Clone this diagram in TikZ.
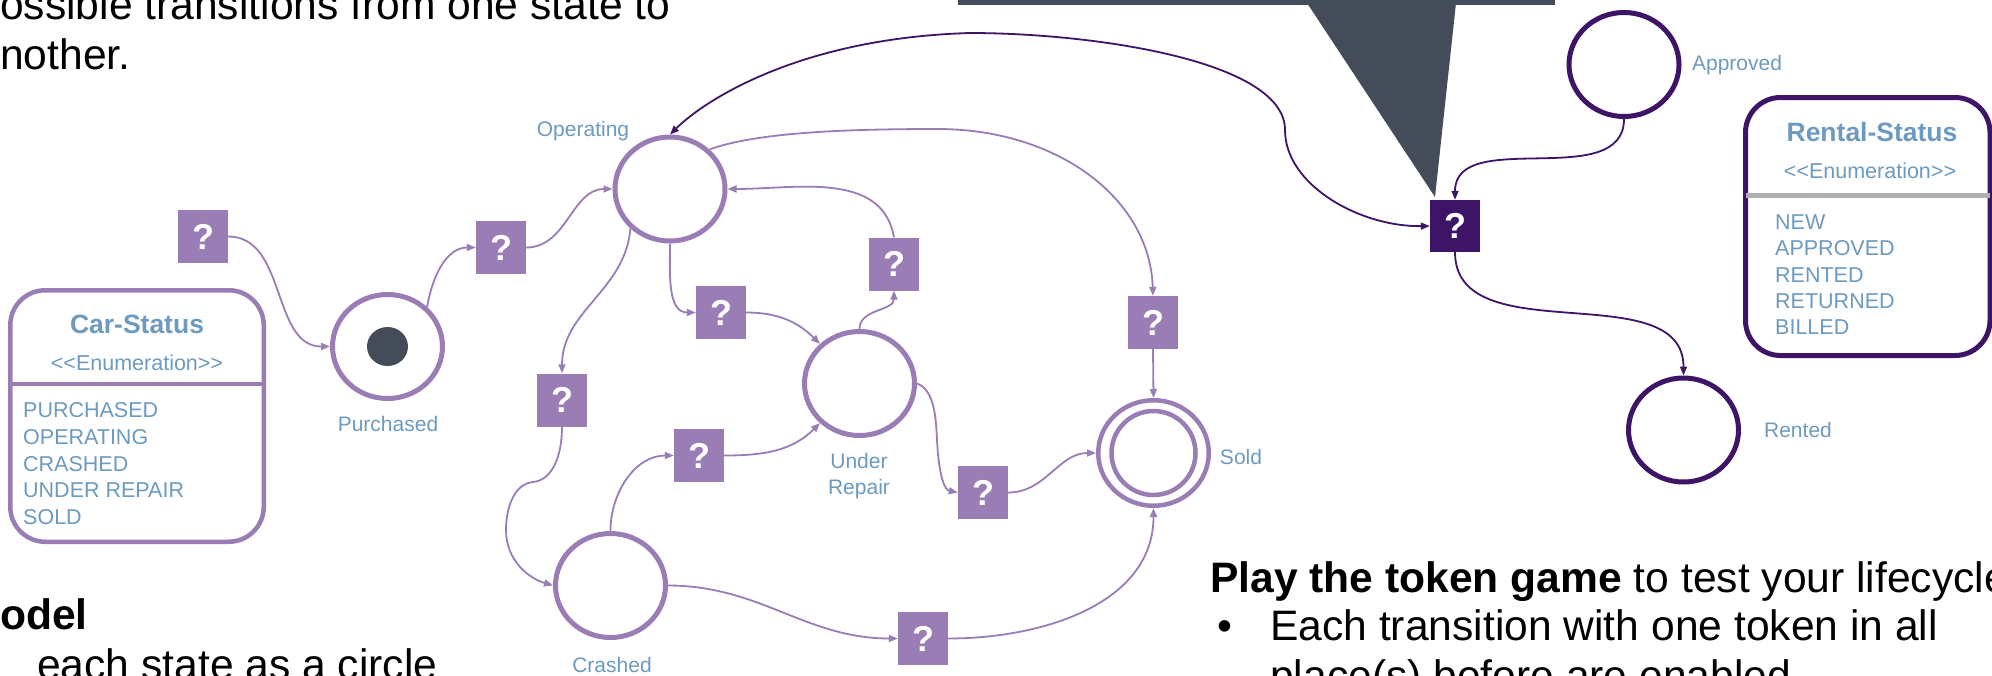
\documentclass[tikz,border=0pt]{standalone}
\usepackage{fontspec}
\setmainfont{Liberation Sans}
\usetikzlibrary{shapes.geometric,arrows.meta}
\definecolor{lp}{HTML}{9A7DB4}
\definecolor{dp}{HTML}{3E1466}
\definecolor{tb}{HTML}{6C9AC0}
\definecolor{dg}{HTML}{434C58}
\definecolor{sepg}{HTML}{B0B0B0}
\tikzset{
 st/.style={ellipse, draw=lp, line width=5pt, minimum width=110pt, minimum height=104pt, inner sep=0pt, fill=white},
 dst/.style={st, draw=dp},
 qb/.style={rectangle, fill=lp, minimum width=50pt, minimum height=53pt, inner sep=0pt, text=white, font=\fontsize{36}{36}\selectfont\bfseries},
 dqb/.style={qb, fill=dp, minimum height=52pt},
 lbl/.style={text=tb, font=\fontsize{21}{26}\selectfont, inner sep=0pt},
 enumt/.style={text=tb, font=\fontsize{21.5}{26}\selectfont, inner sep=0pt},
 enumi/.style={text=tb, font=\fontsize{21.5}{26}\selectfont, inner sep=0pt, anchor=base west},
 enumh/.style={text=tb, font=\fontsize{26.5}{30}\selectfont\bfseries, inner sep=0pt},
 con/.style={draw=lp, line width=1.8pt, -{Triangle[length=9pt,width=7pt]}},
 dcon/.style={con, draw=dp},
 big/.style={font=\fontsize{42.6}{50}\selectfont, inner sep=0pt, anchor=base west},
 ebox/.style={rectangle, rounded corners=35pt, inner sep=0pt, outer sep=0pt},
}
\newcommand{\enumtxt}{<{}<Enumeration>{}>}
\begin{document}
\begin{tikzpicture}[x=1pt,y=1pt]
\useasboundingbox (0,0) rectangle (1992,-675);
\fill[white] (0,0) rectangle (1992,-675);
% dark callout
\fill[dg] (958,10) rectangle (1555,-4.5);
\fill[dg] (1307,-3) -- (1456,-3) -- (1435,-197) -- cycle;

% texts
\node[big] (t1) at (0,-19) {ossible transitions from one state to};
\node[big] (t2) at (0,-69) {nother.};
\node[big, font=\fontsize{42.6}{50}\selectfont\bfseries] (t3) at (0,-629) {odel};
\node[big] (t4) at (37,-679) {each state as a circle};
\node[big] (t5) at (1210,-592) {\textbf{Play the token game} to test your lifecycle};
\node[big] (t6) at (1217,-640) {•};
\node[big] (t7) at (1270,-640) {Each transition with one token in all};
\node[big] (t8) at (1270,-690) {place(s) before are enabled};

% Car-Status enumeration
\node[ebox, draw=lp, line width=4.5pt, minimum width=253.5pt, minimum height=251.5pt] (carbox) at (137,-416) {};
\draw[lp, line width=4.5pt] (carbox.west |- 0,-384) -- (carbox.east |- 0,-384);
\node[enumh] (carh) at (137,-324) {Car-Status};
\node[enumt] (care) at (137,-363) {\enumtxt};
\node[enumi] (c1) at (23,-417.5) {PURCHASED};
\node[enumi] (c2) at (23,-444.3) {OPERATING};
\node[enumi] (c3) at (23,-471.1) {CRASHED};
\node[enumi] (c4) at (23,-497.9) {UNDER REPAIR};
\node[enumi] (c5) at (23,-524.7) {SOLD};

% Rental-Status enumeration
\node[ebox, draw=dp, line width=5pt, minimum width=244.5pt, minimum height=258pt] (rbox) at (1867.75,-226.5) {};
\draw[sepg, line width=5pt] (rbox.west |- 0,-195) -- (rbox.east |- 0,-195);
\node[enumh] (rh) at (1872,-132) {Rental-Status};
\node[enumt] (re) at (1870,-171) {\enumtxt};
\node[enumi] (r1) at (1775,-229.5) {NEW};
\node[enumi] (r2) at (1775,-255.8) {APPROVED};
\node[enumi] (r3) at (1775,-282.1) {RENTED};
\node[enumi] (r4) at (1775,-308.4) {RETURNED};
\node[enumi] (r5) at (1775,-334.7) {BILLED};

% states
\node[st] (pur) at (387.5,-346.5) {};
\node[ellipse, fill=dg, minimum width=41pt, minimum height=39pt, inner sep=0pt] (tok) at (pur.center) {};
\node[st] (op) at (670,-189) {};
\node[st] (ur) at (859.5,-383.5) {};
\node[st] (cr) at (610.5,-585.5) {};
\node[st, line width=4.5pt, minimum width=110.5pt, minimum height=105.5pt] (sold) at (1153.5,-453) {};
\node[circle, draw=lp, line width=4.5pt, minimum size=84pt, inner sep=0pt] (soldin) at (sold.center) {};
\node[dst] (appr) at (1624,-64.5) {};
\node[dst] (rent) at (1683.5,-430) {};

% state labels
\node[lbl] (lpur) at (388,-424) {Purchased};
\node[lbl] (lop) at (583,-131) {Operating};
\node[lbl] (lur1) at (859,-461) {Under};
\node[lbl] (lur2) at (859,-489) {Repair};
\node[lbl] (lcr) at (612,-665) {Crashed};
\node[lbl] (lsold) at (1241,-457) {Sold};
\node[lbl] (lappr) at (1737,-65) {Approved};
\node[lbl] (lrent) at (1798,-430) {Rented};

% transitions
\node[qb] (q1) at (203,-236.5) {?};
\node[qb] (q2) at (501,-247.5) {?};
\node[qb] (q3) at (721,-312.5) {?};
\node[qb] (q4) at (894,-264) {?};
\node[qb] (q5) at (562,-400) {?};
\node[qb] (q6) at (699,-455.5) {?};
\node[qb] (q7) at (1153,-322.5) {?};
\node[qb] (q8) at (983,-492.5) {?};
\node[qb] (q9) at (923,-638.5) {?};
\node[dqb] (qd) at (1455,-226) {?};

% connectors
\draw[con] (q1.east) to[out=0,in=180] (pur.west);
\draw[con] (pur.45) to[out=80,in=180] (q2.west);
\draw[con] (q2.east) to[out=0,in=180] (op.west);
\draw[con] (op.south) to[out=-90,in=180] (q3.west);
\draw[con] (q3.east) to[out=0,in=135] (ur.135);
\draw[con] (ur.north) to[out=90,in=-90] (q4.south);
\draw[con] (q4.north) to[out=100,in=0] (op.east);
\draw[con] (op.45) .. controls (760,-131) and (860,-129) .. (940,-129) .. controls (1060,-130) and (1150,-200) .. (q7.north);
\draw[con] (q7.south) -- (sold.north);
\draw[con] (op.-135) to[out=-95,in=90] (q5.north);
\draw[con] (q5.south) .. controls (562,-455) and (553,-480) .. (533,-482) .. controls (513,-484) and (506,-510) .. (506,-530) .. controls (506,-560) and (528,-578) .. (cr.west);
\draw[con] (cr.north) to[out=90,in=180] (q6.west);
\draw[con] (q6.east) to[out=0,in=-135] (ur.-135);
\draw[con] (ur.east) .. controls (935,-390) and (936,-420) .. (937,-440) .. controls (939,-478) and (945,-490) .. (q8.west);
\draw[con] (q8.east) to[out=0,in=180] (sold.west);
\draw[con] (cr.east) to[out=0,in=180] (q9.west);
\draw[con] (q9.east) to[out=0,in=-90] (sold.south);

\draw[dcon] (appr.south) to[out=-90,in=90] (qd.north);
\draw[dcon, {Triangle[length=9pt,width=7pt]}-{Triangle[length=9pt,width=7pt]}] (op.north) .. controls (705,-100) and (800,-38) .. (970,-33) .. controls (1090,-33) and (1285,-60) .. (1285,-130) .. controls (1285,-185) and (1360,-227) .. (qd.west);
\draw[dcon] (qd.south) to[out=-90,in=90] (rent.north);
\end{tikzpicture}
\end{document}
